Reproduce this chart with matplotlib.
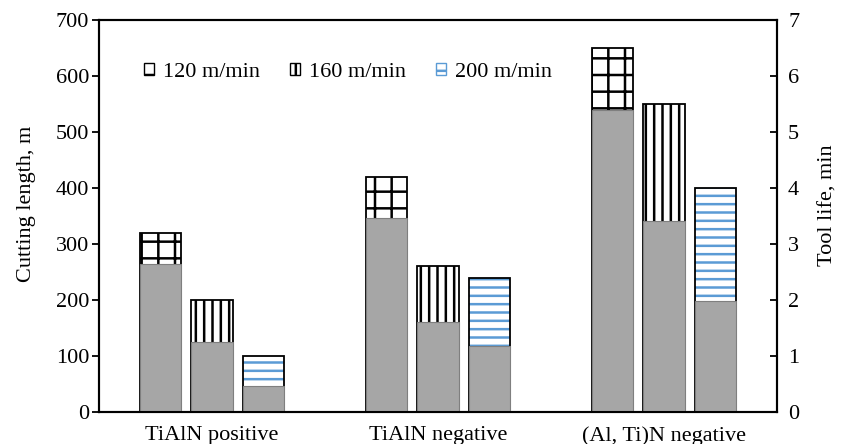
import numpy as np
import matplotlib
matplotlib.use('Agg')
import matplotlib.pyplot as plt
from matplotlib.patches import Patch

groups = ['TiAlN positive', 'TiAlN negative', '(Al, Ti)N negative']
speeds = ['120 m/min', '160 m/min', '200 m/min']
# cutting length (m) per speed, one value per group
cut_len = [[320, 420, 650],
           [200, 260, 550],
           [100, 240, 400]]
# tool life (min)
tool_life = [[2.65, 3.47, 5.4],
             [1.25, 1.6, 3.41],
             [0.47, 1.17, 1.98]]

hatches = ['+', '||', '--']
hatch_colors = ['black', 'black', '#5b9bd5']

plt.rcParams['font.family'] = 'Liberation Serif'
plt.rcParams['hatch.linewidth'] = 1.8
fs = 16

fig = plt.figure(figsize=(8.48, 4.44), dpi=100)
ax = fig.add_axes([99/848, 32/444, 678/848, 392/444])
ax2 = ax.twinx()

x = np.arange(len(groups))
w = 0.185
step = 0.228

for i in range(3):
    xs = x + (i - 1) * step
    ax.bar(xs, cut_len[i], w, facecolor='white', hatch=hatches[i],
           edgecolor=hatch_colors[i], linewidth=0)
    ax.bar(xs, cut_len[i], w, fill=False, edgecolor='black', linewidth=1.3)
    ax2.bar(xs, tool_life[i], w, color='#a6a6a6', edgecolor='#7f7f7f', linewidth=0.8)

ax.set_xlim(-0.5, 2.5)
ax.set_ylim(0, 700)
ax2.set_ylim(0, 7)
ax.set_yticks(np.arange(0, 701, 100))
ax2.set_yticks(np.arange(0, 8, 1))
ax.set_xticks(x)
ax.set_xticklabels(groups)

ax.tick_params(axis='x', length=0, labelsize=fs, pad=10, colors='black')
ax.tick_params(axis='y', direction='out', length=5, width=1.3, labelsize=fs, pad=2)
ax2.tick_params(axis='y', direction='in', length=5, width=1.3, labelsize=fs, pad=8)

for a in (ax, ax2):
    for s in a.spines.values():
        s.set_linewidth(1.5)

ax.set_ylabel('Cutting length, m', fontsize=fs)
ax2.set_ylabel('Tool life, min', fontsize=fs)
ax.yaxis.set_label_coords(-0.093, 0.531)
ax2.yaxis.set_label_coords(1.062, 0.528)

handles = [Patch(facecolor='white', hatch=hatches[i], edgecolor=hatch_colors[i])
           for i in range(3)]
leg = ax2.legend(handles, speeds, loc='center left', bbox_to_anchor=(0.037, 0.867),
                 ncol=3, frameon=False, fontsize=fs, handlelength=0.45,
                 handleheight=0.45, handletextpad=0.4, columnspacing=1.35)
for h in leg.legend_handles:
    h.set_linewidth(1.0)

fig.savefig('out.png', dpi=100)
